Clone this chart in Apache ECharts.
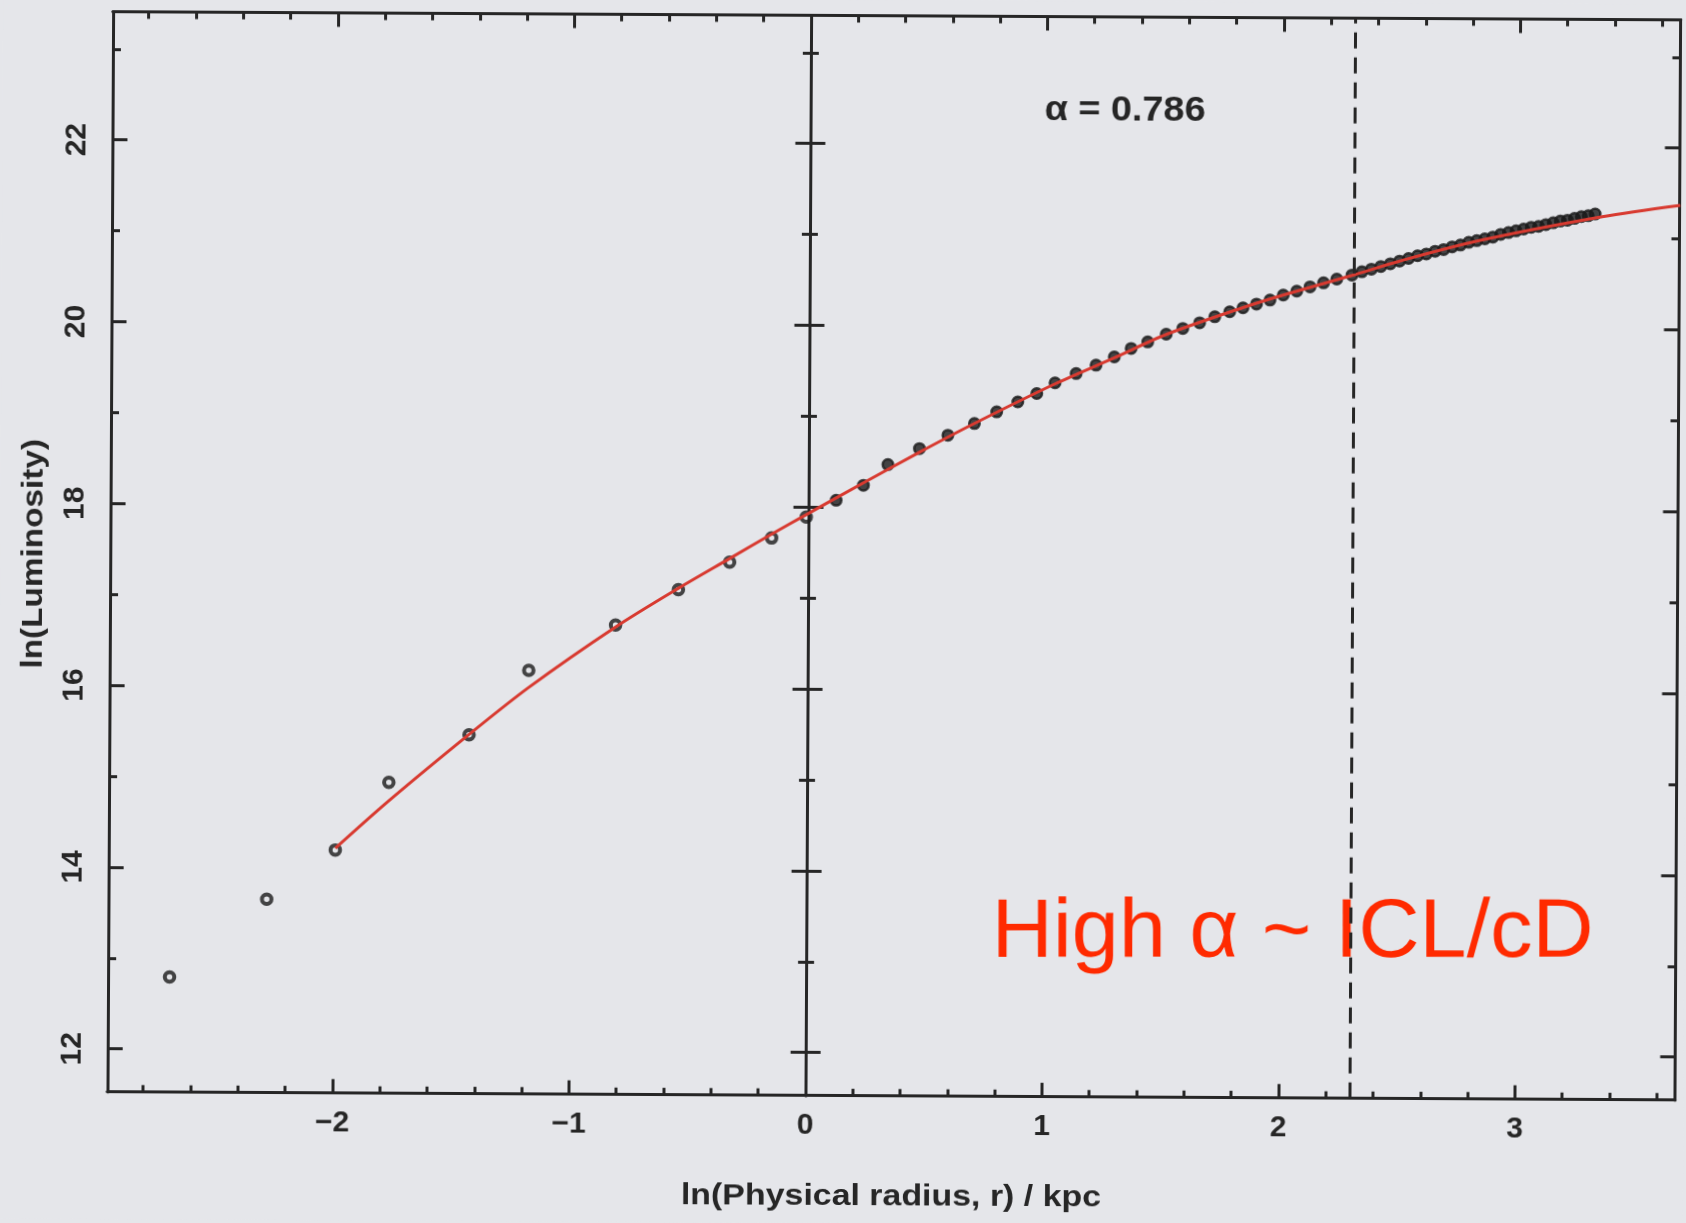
<!DOCTYPE html>
<html>
<head>
<meta charset="utf-8">
<title>ln(Luminosity) vs ln(Physical radius)</title>
<script src="https://cdn.jsdelivr.net/npm/echarts@6/dist/echarts.min.js"></script>
<style>
  html, body { margin: 0; padding: 0; background: #e5e6ea; overflow: hidden; }
  /* the printed figure sits very slightly skewed on the page */
  #chart { width: 1686px; height: 1223px; transform: rotate(0.3deg); transform-origin: 50% 50%; }
</style>
</head>
<body>
<div id="chart"></div>
<script>
// Cumulative luminosity profile: measured points (ln r, ln L)
const lnRadius = [
  -2.691, -2.282, -1.993, -1.768, -1.430, -1.179, -0.813, -0.548, -0.332, -0.155,
  -0.009, 0.117, 0.232, 0.335, 0.468, 0.588, 0.700, 0.794, 0.883, 0.963,
  1.040, 1.129, 1.213, 1.290, 1.361, 1.431, 1.509, 1.579, 1.650, 1.714,
  1.777, 1.833, 1.890, 1.947, 2.003, 2.060, 2.116, 2.173, 2.229, 2.293,
  2.335, 2.375, 2.415, 2.455, 2.494, 2.532, 2.570, 2.607, 2.644, 2.680,
  2.716, 2.751, 2.786, 2.820, 2.854, 2.888, 2.921, 2.954, 2.986, 3.018,
  3.050, 3.081, 3.112, 3.143, 3.173, 3.203, 3.233, 3.262, 3.291, 3.320
];
const lnLum = [
  12.795, 13.654, 14.201, 14.947, 15.476, 16.189, 16.692, 17.084, 17.390, 17.658,
  17.891, 18.077, 18.243, 18.473, 18.650, 18.799, 18.929, 19.058, 19.169, 19.263,
  19.381, 19.485, 19.578, 19.670, 19.764, 19.837, 19.923, 19.987, 20.050, 20.117,
  20.173, 20.217, 20.259, 20.304, 20.360, 20.404, 20.452, 20.497, 20.539, 20.584,
  20.62, 20.65, 20.68, 20.71, 20.74, 20.77, 20.80, 20.82, 20.85, 20.87,
  20.90, 20.92, 20.95, 20.97, 20.99, 21.01, 21.04, 21.06, 21.08, 21.10,
  21.12, 21.13, 21.15, 21.17, 21.19, 21.20, 21.22, 21.24, 21.25, 21.27
];

// Fitted profile (alpha = 0.786)
const fitLnRadius = [-1.993, -1.77, -1.43, -1.179, -0.813, -0.548, -0.332, -0.155, 0, 0.232,
  0.468, 0.70, 1.04, 1.29, 1.509, 1.833, 2.003, 2.293, 2.494, 2.83, 3.35, 3.68];
const fitLnLum = [14.22, 14.74, 15.48, 16.00, 16.67, 17.10, 17.43, 17.70, 17.93, 18.27,
  18.61, 18.93, 19.37, 19.66, 19.92, 20.22, 20.36, 20.58, 20.74, 20.97, 21.24, 21.37];

const alphaLabel = 'α = 0.786';
const noteLabel = 'High α ~ ICL/cD';
const xTitle = 'ln(Physical radius, r) / kpc';
const yTitle = 'ln(Luminosity)';
const cutLnRadius = 2.303;   // ln(10 kpc)

// Axis ticks
const xMajor = [-2, -1, 0, 1, 2, 3];
const xMinor = [-2.8, -2.6, -2.4, -2.2, -1.8, -1.6, -1.4, -1.2, -0.8, -0.6, -0.4, -0.2,
  0.2, 0.4, 0.6, 0.8, 1.2, 1.4, 1.6, 1.8, 2.2, 2.4, 2.6, 2.8, 3.2, 3.4, 3.6];
const yMajor = [12, 14, 16, 18, 20, 22];
const yMinor = [13, 15, 17, 19, 21, 23];

const X_MIN = -2.951, X_MAX = 3.677;
const Y_MIN = 11.527, Y_MAX = 23.410;

const FONT = '"Liberation Sans", Arial, Helvetica, sans-serif';
const INK = '#262626';
const DOT = '#1a1a1a';
const AXIS_W = 3;
const TILT = 0.3 * Math.PI / 180;   // page skew, undone for the overlay note

// inner points (ln r < 0) drawn as open circles, the rest as filled dots
const profile = lnRadius.map((x, i) => ({
  value: [x, lnLum[i]],
  symbolSize: x < 0 ? 9.5 : 10.5,
  itemStyle: x < 0
    ? { color: 'rgba(0,0,0,0)', borderColor: DOT, borderWidth: 4 }
    : { color: DOT, borderColor: DOT, borderWidth: 2.5 }
}));
const fit = fitLnRadius.map((x, i) => [x, fitLnLum[i]]);

function xAxisDef(position, ticks, len, extra) {
  return Object.assign({
    type: 'value', position: position, min: X_MIN, max: X_MAX,
    axisLine: { show: true, onZero: false, lineStyle: { color: INK, width: AXIS_W } },
    axisTick: { show: true, inside: true, length: len, customValues: ticks,
                lineStyle: { color: INK, width: AXIS_W } },
    axisLabel: { show: false },
    splitLine: { show: false }
  }, extra || {});
}

function yAxisDef(position, ticks, len, inside, onZero, extra) {
  return Object.assign({
    type: 'value', position: position, min: Y_MIN, max: Y_MAX,
    axisLine: { show: true, onZero: onZero, onZeroAxisIndex: 0,
                lineStyle: { color: INK, width: AXIS_W } },
    axisTick: { show: true, inside: inside, length: len, customValues: ticks,
                lineStyle: { color: INK, width: AXIS_W } },
    axisLabel: { show: false },
    splitLine: { show: false }
  }, extra || {});
}

const tickFont = { fontFamily: FONT, fontSize: 30, fontWeight: 'bold', color: INK };

const option = {
  backgroundColor: '#e5e6ea',
  animation: false,
  grid: { left: 110, right: 8.5, top: 15.5, bottom: 127.3, containLabel: false },
  xAxis: [
    xAxisDef('bottom', xMajor, 14, {
      axisLabel: Object.assign({ show: true, customValues: xMajor, margin: 15,
        formatter: v => (v < 0 ? '\u2212' + Math.abs(v) : String(v)) }, tickFont)
    }),
    xAxisDef('bottom', xMinor, 7),
    xAxisDef('top', xMajor, 14),
    xAxisDef('top', xMinor, 7)
  ],
  yAxis: [
    yAxisDef('left', yMajor, 15, true, false, {
      axisLabel: Object.assign({ show: true, customValues: yMajor, rotate: 90, margin: 20,
        formatter: v => String(v) }, tickFont)
    }),
    yAxisDef('left', yMinor, 8, true, false),
    yAxisDef('right', yMajor, 15, true, false),
    yAxisDef('right', yMinor, 8, true, false),
    // axis through ln r = 0, ticks crossing on both sides
    yAxisDef('left', yMajor, 15, false, true),
    yAxisDef('left', yMajor, 15, true, true),
    yAxisDef('left', yMinor, 8, false, true),
    yAxisDef('left', yMinor, 8, true, true)
  ],
  series: [
    {
      name: 'profile',
      type: 'scatter',
      xAxisIndex: 0, yAxisIndex: 0,
      data: profile,
      symbol: 'circle',
      z: 3,
      markLine: {
        silent: true,
        symbol: ['none', 'none'],
        label: { show: false },
        lineStyle: { type: [16, 9], width: 3, color: INK },
        data: [{ xAxis: cutLnRadius }]
      }
    },
    {
      name: 'fit',
      type: 'line',
      xAxisIndex: 0, yAxisIndex: 0,
      data: fit,
      smooth: 0.3,
      showSymbol: false,
      lineStyle: { color: '#d83a30', width: 3 },
      z: 4
    }
  ],
  graphic: [
    {
      type: 'text', x: 1042, y: 109, scaleX: 1.08,
      style: { text: alphaLabel, fill: INK, font: 'bold 35px ' + FONT,
               align: 'left', verticalAlign: 'middle' }
    },
    {
      type: 'text', x: 993.5, y: 933, rotation: TILT, scaleX: 1.02,
      style: { text: noteLabel, fill: '#ff2a00', font: '83px ' + FONT,
               align: 'left', verticalAlign: 'middle' }
    },
    {
      type: 'text', x: 894, y: 1196.5, scaleX: 1.13,
      style: { text: xTitle, fill: INK, font: 'bold 30px ' + FONT,
               align: 'center', verticalAlign: 'middle' }
    },
    {
      type: 'text', x: 33.5, y: 558, rotation: Math.PI / 2, scaleX: 1.15,
      style: { text: yTitle, fill: INK, font: 'bold 29px ' + FONT,
               align: 'center', verticalAlign: 'middle' }
    }
  ]
};

const chart = echarts.init(document.getElementById('chart'), null, { renderer: 'canvas' });
chart.setOption(option);
</script>
</body>
</html>
